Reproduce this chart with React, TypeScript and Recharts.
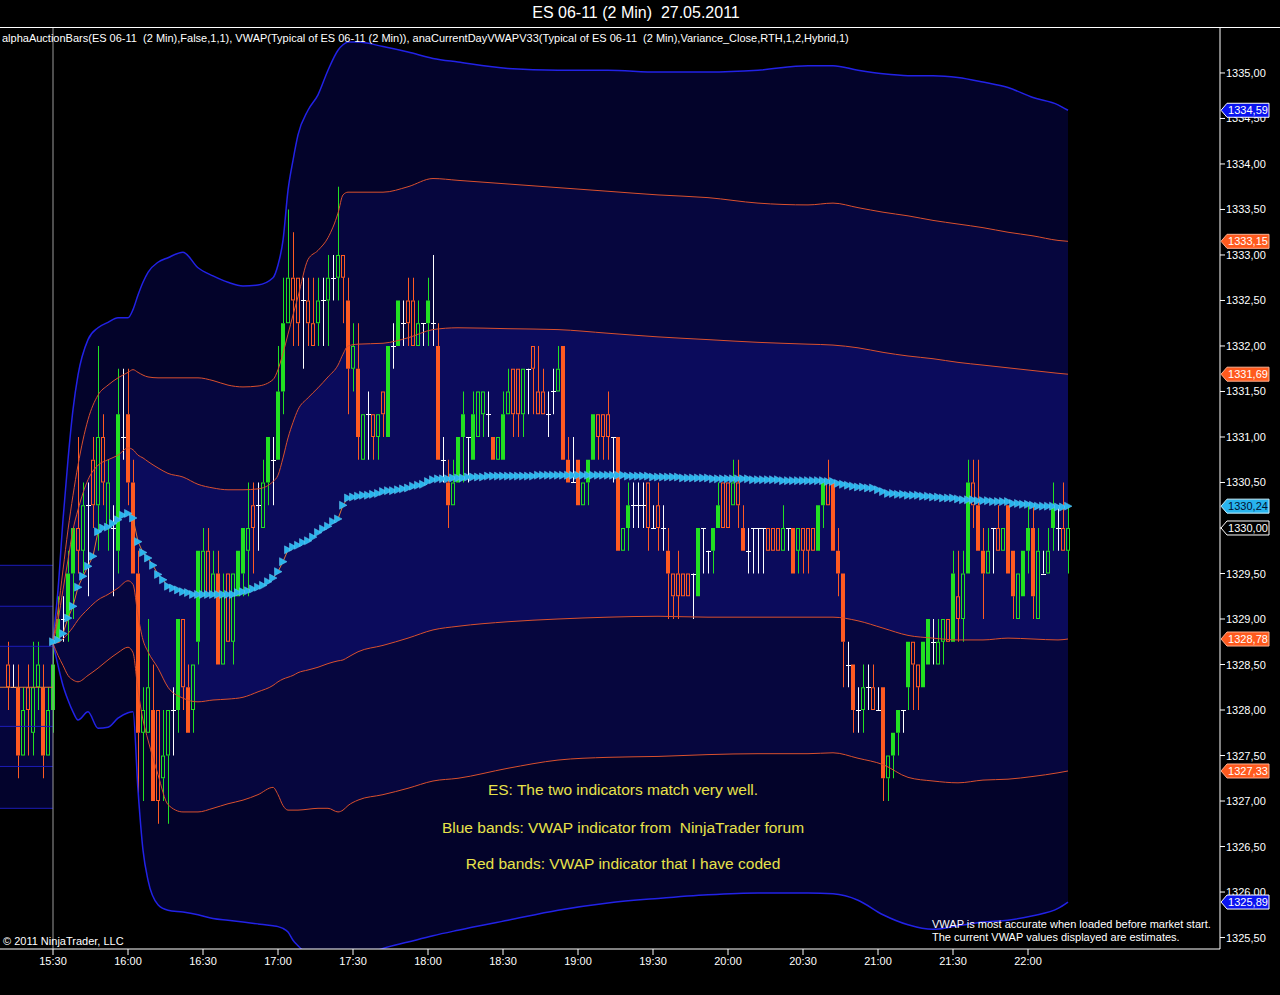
import React from 'react';
import { ComposedChart, XAxis, YAxis, Bar, Line, Area, ReferenceLine } from 'recharts';

const FONT = '"Liberation Sans", Arial, sans-serif';
const GREEN = '#22e022';
const RED = '#ff5a22';
const BAND_RED = '#d9502e';
const BAND_BLUE = '#2222e6';

// ---- 2-minute bars, index 0 = 15:12 ----
const open = [
  1328.50,1328.25,1328.25,1327.50,1328.25,1327.75,1328.25,1328.25,1327.50,1328.00,
  1328.75,1329.00,1329.00,1329.50,1330.00,1329.75,1330.25,1330.75,1330.25,1331.00,
  1330.00,1330.00,1329.75,1331.00,1331.25,1330.50,1329.50,1327.75,1327.75,1328.00,
  1328.00,1327.25,1327.50,1328.00,1328.00,1329.00,1328.25,1328.00,1328.75,1329.25,
  1329.75,1329.25,1329.50,1328.50,1329.50,1328.75,1329.25,1329.50,1329.75,1330.25,
  1330.25,1330.00,1330.50,1330.75,1330.75,1331.50,1332.25,1332.75,1332.75,1332.50,
  1332.50,1332.25,1332.25,1332.50,1332.50,1332.75,1332.75,1333.00,1332.50,1331.75,
  1331.75,1330.75,1331.25,1331.25,1331.00,1331.50,1331.00,1332.00,1332.00,1332.25,
  1332.50,1332.50,1332.00,1332.25,1332.25,1332.25,1332.00,1330.75,1330.50,1330.25,
  1330.50,1331.00,1331.00,1330.75,1331.00,1331.25,1331.25,1331.00,1330.75,1330.75,
  1331.25,1331.75,1331.75,1331.25,1331.75,1332.00,1331.50,1331.50,1331.25,1331.50,
  1331.50,1332.00,1330.75,1330.50,1330.75,1330.25,1330.50,1330.75,1331.25,1331.25,
  1331.25,1331.00,1331.00,1329.75,1330.00,1330.25,1330.25,1330.25,1330.50,1330.00,
  1330.25,1330.00,1329.75,1329.50,1329.50,1329.50,1329.50,1329.50,1329.25,1330.00,
  1329.75,1329.75,1330.00,1330.50,1330.50,1330.25,1330.50,1330.00,1329.75,1330.00,
  1330.00,1330.00,1330.00,1330.00,1330.00,1329.75,1330.00,1330.00,1329.75,1330.00,
  1330.00,1330.00,1329.75,1330.25,1330.50,1330.50,1329.75,1329.50,1328.50,1328.50,
  1328.00,1328.00,1328.25,1328.25,1328.00,1328.25,1327.25,1327.50,1327.75,1328.00,
  1328.25,1328.75,1328.50,1328.25,1328.50,1328.75,1328.50,1328.75,1329.00,1328.75,
  1329.25,1329.00,1329.50,1330.50,1330.25,1329.75,1329.50,1330.00,1330.00,1329.75,
  1330.25,1329.75,1329.00,1329.25,1329.75,1330.00,1329.00,1329.50,1329.50,1330.00,
  1330.00,1330.00,1329.75,
];
const high = [
  1328.75,1328.50,1328.50,1328.25,1328.50,1328.75,1328.75,1328.50,1328.25,1328.75,
  1329.25,1329.25,1329.75,1330.00,1331.00,1330.50,1330.50,1331.00,1332.00,1331.25,
  1330.75,1330.25,1331.75,1331.75,1331.75,1330.75,1329.75,1328.25,1329.00,1328.50,
  1328.00,1328.00,1328.00,1328.25,1329.00,1329.00,1328.50,1328.50,1329.75,1330.00,
  1330.00,1329.75,1329.75,1329.50,1329.50,1329.50,1329.75,1330.00,1330.50,1330.50,
  1330.50,1330.75,1331.00,1331.00,1332.00,1332.75,1333.50,1333.25,1332.75,1332.75,
  1332.75,1332.75,1332.75,1332.75,1333.00,1333.00,1333.75,1333.00,1332.75,1332.25,
  1332.25,1331.25,1331.50,1331.25,1331.25,1331.50,1332.00,1332.25,1332.50,1332.50,
  1332.75,1332.75,1332.50,1332.25,1332.75,1333.00,1332.25,1331.00,1330.75,1330.75,
  1331.00,1331.50,1331.00,1331.50,1331.50,1331.50,1331.50,1331.00,1331.00,1331.50,
  1331.75,1331.75,1331.75,1331.75,1331.75,1332.00,1332.00,1331.75,1331.50,1331.75,
  1332.00,1332.00,1331.00,1331.00,1330.75,1330.50,1330.75,1331.25,1331.25,1331.25,
  1331.50,1331.00,1331.00,1330.00,1330.50,1330.50,1330.50,1330.50,1330.50,1330.25,
  1330.50,1330.25,1330.00,1329.50,1329.75,1329.50,1329.50,1329.50,1330.00,1330.00,
  1329.75,1330.00,1330.50,1330.50,1330.50,1330.75,1330.75,1330.25,1330.00,1330.00,
  1330.00,1330.00,1330.00,1330.00,1330.00,1330.25,1330.00,1330.00,1330.00,1330.00,
  1330.00,1330.00,1330.25,1330.50,1330.75,1330.50,1330.00,1329.50,1328.75,1328.50,
  1328.25,1328.50,1328.50,1328.50,1328.25,1328.25,1327.50,1327.75,1328.00,1328.00,
  1328.75,1328.75,1328.50,1328.75,1329.00,1329.00,1329.00,1329.00,1329.00,1329.75,
  1329.75,1329.75,1330.75,1330.75,1330.75,1330.00,1330.00,1330.00,1330.25,1330.00,
  1330.25,1329.75,1329.50,1329.75,1330.25,1330.25,1330.00,1329.75,1330.00,1330.50,
  1330.25,1330.50,1330.25,
];
const low = [
  1328.00,1328.25,1327.25,1327.50,1327.50,1327.50,1328.00,1327.25,1327.50,1327.75,
  1328.75,1328.75,1328.75,1329.00,1329.50,1329.50,1329.25,1330.00,1329.75,1330.25,
  1329.75,1329.25,1329.50,1330.75,1330.25,1329.50,1327.00,1327.00,1327.75,1327.00,
  1326.75,1327.00,1326.75,1327.50,1327.75,1328.00,1327.75,1327.75,1328.50,1329.25,
  1329.25,1329.25,1328.50,1328.50,1328.75,1328.50,1329.25,1329.25,1329.25,1329.50,
  1329.75,1330.00,1330.25,1330.25,1330.75,1331.25,1332.25,1332.00,1332.00,1331.75,
  1332.00,1332.00,1332.00,1332.00,1332.00,1332.50,1332.50,1332.25,1331.25,1331.50,
  1330.75,1330.75,1330.75,1330.75,1330.75,1331.00,1331.00,1331.75,1332.00,1332.00,
  1332.00,1332.00,1332.00,1332.00,1332.00,1332.00,1330.75,1330.50,1330.00,1330.25,
  1330.50,1330.50,1330.50,1330.75,1331.00,1331.00,1331.00,1330.75,1330.75,1330.75,
  1331.25,1331.00,1331.00,1331.00,1331.25,1331.25,1331.25,1331.25,1331.00,1331.25,
  1331.50,1330.75,1330.50,1330.50,1330.25,1330.25,1330.25,1330.75,1330.75,1330.75,
  1330.75,1330.50,1329.75,1329.75,1329.75,1330.00,1330.00,1330.00,1329.75,1330.00,
  1329.75,1329.75,1329.00,1329.00,1329.00,1329.25,1329.25,1329.00,1329.25,1329.50,
  1329.50,1329.50,1330.00,1330.00,1330.00,1330.25,1330.00,1329.75,1329.50,1329.50,
  1329.50,1329.50,1329.75,1329.75,1329.75,1329.75,1329.75,1329.50,1329.50,1329.50,
  1329.50,1329.75,1329.75,1330.00,1330.25,1329.75,1329.25,1328.25,1328.25,1327.75,
  1327.75,1327.75,1328.00,1328.00,1328.00,1327.00,1327.00,1327.25,1327.50,1327.75,
  1328.00,1328.00,1328.00,1328.25,1328.50,1328.50,1328.50,1328.50,1328.75,1328.75,
  1328.75,1328.75,1329.50,1330.00,1329.75,1329.00,1329.50,1329.50,1329.75,1329.75,
  1329.50,1329.00,1329.00,1329.25,1329.50,1329.00,1329.00,1329.50,1329.50,1329.75,
  1329.75,1329.75,1329.50,
];
const close = [
  1328.25,1328.25,1327.50,1328.00,1328.00,1328.25,1328.50,1327.50,1328.00,1328.50,
  1329.00,1329.00,1329.50,1330.00,1329.75,1330.25,1330.25,1330.25,1331.00,1330.50,
  1330.50,1330.00,1331.25,1331.00,1330.50,1329.50,1327.75,1328.00,1328.25,1327.00,
  1327.00,1327.50,1328.00,1328.00,1329.00,1328.25,1327.75,1328.50,1329.75,1329.75,
  1329.25,1329.50,1328.50,1329.25,1328.75,1329.50,1329.75,1330.00,1330.00,1330.00,
  1330.25,1330.50,1331.00,1330.75,1331.50,1332.25,1332.75,1332.50,1332.25,1332.50,
  1332.25,1332.00,1332.50,1332.50,1332.75,1332.75,1333.00,1332.75,1331.75,1332.00,
  1331.00,1331.25,1331.25,1331.00,1331.25,1331.25,1332.00,1332.00,1332.50,1332.25,
  1332.25,1332.00,1332.25,1332.25,1332.50,1332.25,1330.75,1330.75,1330.25,1330.50,
  1331.00,1331.25,1331.00,1331.25,1331.50,1331.50,1331.25,1330.75,1331.00,1331.25,
  1331.50,1331.25,1331.25,1331.75,1331.75,1331.75,1331.25,1331.25,1331.25,1331.50,
  1331.75,1330.75,1330.50,1330.50,1330.25,1330.50,1330.75,1331.25,1331.00,1331.00,
  1331.00,1331.00,1329.75,1330.00,1330.25,1330.25,1330.25,1330.25,1330.00,1330.00,
  1330.00,1330.00,1329.50,1329.25,1329.25,1329.25,1329.25,1329.50,1330.00,1330.00,
  1329.75,1330.00,1330.25,1330.00,1330.00,1330.50,1330.25,1329.75,1329.75,1330.00,
  1330.00,1330.00,1329.75,1329.75,1329.75,1330.00,1330.00,1329.50,1330.00,1329.75,
  1329.75,1329.75,1330.25,1330.50,1330.25,1329.75,1329.50,1328.75,1328.50,1328.00,
  1328.00,1328.25,1328.25,1328.00,1328.00,1327.25,1327.50,1327.75,1328.00,1328.00,
  1328.75,1328.50,1328.25,1328.75,1329.00,1328.75,1328.75,1329.00,1328.75,1329.50,
  1329.00,1329.50,1330.50,1330.25,1329.75,1329.50,1329.75,1330.00,1329.75,1330.00,
  1329.50,1329.25,1329.50,1329.75,1330.00,1329.25,1329.75,1329.50,1329.75,1330.25,
  1330.00,1329.75,1330.00,
];

// ---- VWAP per bar, from the session open (bar index 9 = 15:30) ----
const vwapStart = 9;
const vwap = [
  1328.75,1328.77,1328.84,1329.01,1329.14,1329.35,1329.47,1329.58,1329.69,1329.96,
  1330.00,1330.01,1330.05,1330.09,1330.14,1330.16,1330.11,1329.85,1329.73,1329.67,
  1329.59,1329.49,1329.43,1329.36,1329.34,1329.32,1329.30,1329.29,1329.27,1329.27,
  1329.27,1329.27,1329.27,1329.27,1329.27,1329.27,1329.27,1329.29,1329.30,1329.31,
  1329.33,1329.35,1329.37,1329.41,1329.45,1329.52,1329.63,1329.76,1329.79,1329.81,
  1329.84,1329.86,1329.90,1329.95,1329.99,1330.02,1330.07,1330.10,1330.25,1330.33,
  1330.34,1330.35,1330.36,1330.36,1330.37,1330.38,1330.40,1330.41,1330.41,1330.42,
  1330.43,1330.44,1330.46,1330.47,1330.48,1330.51,1330.53,1330.54,1330.54,1330.54,
  1330.55,1330.55,1330.55,1330.56,1330.56,1330.56,1330.56,1330.57,1330.57,1330.57,
  1330.57,1330.57,1330.57,1330.57,1330.57,1330.57,1330.57,1330.58,1330.58,1330.58,
  1330.58,1330.58,1330.58,1330.58,1330.58,1330.58,1330.58,1330.58,1330.58,1330.58,
  1330.58,1330.58,1330.58,1330.58,1330.58,1330.57,1330.57,1330.57,1330.57,1330.57,
  1330.56,1330.56,1330.56,1330.56,1330.56,1330.56,1330.55,1330.55,1330.55,1330.55,
  1330.55,1330.55,1330.54,1330.54,1330.54,1330.54,1330.54,1330.54,1330.54,1330.54,
  1330.53,1330.53,1330.53,1330.53,1330.53,1330.53,1330.52,1330.52,1330.52,1330.52,
  1330.52,1330.52,1330.52,1330.52,1330.52,1330.51,1330.51,1330.49,1330.48,1330.47,
  1330.46,1330.45,1330.45,1330.44,1330.44,1330.42,1330.40,1330.38,1330.38,1330.37,
  1330.37,1330.36,1330.36,1330.36,1330.35,1330.35,1330.34,1330.34,1330.33,1330.33,
  1330.33,1330.32,1330.31,1330.31,1330.31,1330.30,1330.30,1330.30,1330.29,1330.29,
  1330.29,1330.29,1330.27,1330.27,1330.26,1330.26,1330.25,1330.24,1330.24,1330.24,
  1330.24,1330.23,1330.23,1330.24,
];

// ---- VWAP standard-deviation bands (sampled at these bar indices) ----
const bandIdx = [9,10,11,12,13,14,16,18,20,22,24,25,26,27,28,30,32,35,38,41,44,47,50,53,54,55,56,57,58,60,62,64,66,67,68,70,75,80,85,90,100,110,120,130,140,150,160,165,170,175,180,185,190,195,200,205,210,212];
const up3 = [1328.77,1329.32,1330.09,1330.75,1331.30,1331.68,1332.07,1332.20,1332.26,1332.31,1332.31,1332.40,1332.56,1332.70,1332.81,1332.92,1332.97,1333.03,1332.86,1332.77,1332.70,1332.66,1332.67,1332.75,1332.89,1333.16,1333.71,1334.04,1334.32,1334.59,1334.76,1335.03,1335.25,1335.31,1335.34,1335.34,1335.29,1335.23,1335.16,1335.12,1335.05,1335.03,1335.03,1335.01,1335.01,1335.03,1335.08,1335.08,1335.03,1334.99,1334.97,1334.97,1334.95,1334.90,1334.84,1334.73,1334.65,1334.59];
const up2 = [1328.76,1329.10,1329.54,1329.98,1330.36,1330.69,1331.19,1331.46,1331.57,1331.65,1331.71,1331.74,1331.71,1331.68,1331.66,1331.65,1331.65,1331.65,1331.65,1331.62,1331.57,1331.55,1331.56,1331.63,1331.74,1331.92,1332.13,1332.34,1332.54,1332.95,1333.05,1333.19,1333.46,1333.66,1333.69,1333.69,1333.69,1333.75,1333.84,1333.82,1333.78,1333.74,1333.70,1333.66,1333.63,1333.57,1333.55,1333.57,1333.52,1333.47,1333.43,1333.38,1333.34,1333.30,1333.25,1333.21,1333.16,1333.15];
const up1 = [1328.75,1328.99,1329.32,1329.65,1329.98,1330.20,1330.53,1330.69,1330.75,1330.80,1330.88,1330.86,1330.80,1330.77,1330.73,1330.66,1330.60,1330.56,1330.48,1330.44,1330.42,1330.42,1330.43,1330.51,1330.58,1330.77,1330.99,1331.16,1331.30,1331.43,1331.54,1331.66,1331.79,1331.91,1332.00,1332.02,1332.03,1332.09,1332.18,1332.20,1332.19,1332.18,1332.14,1332.10,1332.07,1332.04,1332.02,1332.01,1331.98,1331.93,1331.89,1331.86,1331.82,1331.79,1331.76,1331.73,1331.70,1331.69];
const lo1 = [1328.74,1328.74,1328.78,1328.84,1328.91,1328.99,1329.11,1329.21,1329.27,1329.34,1329.42,1329.38,1329.04,1328.77,1328.64,1328.46,1328.25,1328.13,1328.09,1328.11,1328.12,1328.14,1328.20,1328.27,1328.31,1328.34,1328.36,1328.38,1328.41,1328.44,1328.47,1328.51,1328.54,1328.55,1328.58,1328.64,1328.71,1328.79,1328.88,1328.92,1328.97,1329.00,1329.02,1329.03,1329.02,1329.02,1329.02,1329.02,1328.98,1328.90,1328.82,1328.79,1328.77,1328.77,1328.79,1328.78,1328.77,1328.78];
const lo2 = [1328.73,1328.60,1328.49,1328.38,1328.33,1328.31,1328.38,1328.46,1328.55,1328.63,1328.69,1328.63,1328.22,1327.89,1327.67,1327.29,1326.96,1326.88,1326.88,1326.92,1326.97,1327.01,1327.07,1327.15,1327.07,1326.95,1326.90,1326.90,1326.90,1326.91,1326.92,1326.92,1326.88,1326.90,1326.95,1327.01,1327.07,1327.14,1327.22,1327.25,1327.36,1327.45,1327.48,1327.49,1327.51,1327.52,1327.52,1327.53,1327.47,1327.40,1327.26,1327.22,1327.20,1327.23,1327.24,1327.27,1327.31,1327.33];
const lo3 = [1328.73,1328.49,1328.27,1328.11,1327.98,1327.89,1327.98,1327.80,1327.81,1327.91,1327.97,1327.98,1327.12,1326.46,1326.13,1325.86,1325.80,1325.78,1325.75,1325.71,1325.69,1325.67,1325.65,1325.63,1325.62,1325.60,1325.56,1325.47,1325.41,1325.31,1325.23,1325.19,1325.18,1325.19,1325.21,1325.27,1325.38,1325.45,1325.52,1325.58,1325.69,1325.80,1325.88,1325.93,1325.97,1325.99,1325.99,1325.98,1325.91,1325.75,1325.64,1325.59,1325.63,1325.67,1325.69,1325.74,1325.82,1325.89];

// ---- pre-market (prior values carried flat up to the open) ----
const preIdx = [-2, 9];
const preVwap = [1328.25, 1328.25];
const preUp3 = [1329.59, 1329.59];
const preUp2 = [1329.14, 1329.14];
const preUp1 = [1328.70, 1328.70];
const preLo1 = [1327.82, 1327.82];
const preLo2 = [1327.38, 1327.38];
const preLo3 = [1326.92, 1326.92];

// ---- axes ----
const xTickIdx = [9, 24, 39, 54, 69, 84, 99, 114, 129, 144, 159, 174, 189, 204];
const xTickLabels = ['15:30','16:00','16:30','17:00','17:30','18:00','18:30','19:00','19:30','20:00','20:30','21:00','21:30','22:00'];
const yTicks = [1325.5,1326,1326.5,1327,1327.5,1328,1328.5,1329,1329.5,1330,1330.5,1331,1331.5,1332,1332.5,1333,1333.5,1334,1334.5,1335];

const bars = open.map((o, i) => ({
  i, o, h: high[i], l: low[i], c: close[i],
  ph: i > 0 ? high[i - 1] : high[i], pl: i > 0 ? low[i - 1] : low[i],
  range: [low[i], high[i]],
}));
const vwapRows = vwap.map((v, k) => ({ i: vwapStart + k, v }));
const bandRows = bandIdx.map((x, k) => ({
  i: x, up3: up3[k], up2: up2[k], up1: up1[k], lo1: lo1[k], lo2: lo2[k], lo3: lo3[k],
  r3: [lo3[k], up3[k]], r2: [lo2[k], up2[k]], r1: [lo1[k], up1[k]],
}));
const preRows = preIdx.map((x, k) => ({
  i: x, v: preVwap[k], up3: preUp3[k], up2: preUp2[k], up1: preUp1[k], lo1: preLo1[k], lo2: preLo2[k], lo3: preLo3[k],
  r3: [preLo3[k], preUp3[k]], r2: [preLo2[k], preUp2[k]], r1: [preLo1[k], preUp1[k]],
}));

const fmt = (v: number) => v.toFixed(2).replace('.', ',');
const last = (a: number[]) => a[a.length - 1];

// last-value markers shown on the price axis
const flags = [
  { v: last(up3), bg: '#0a14f0', fg: '#ffffff', border: '#ffffff' },
  { v: last(up2), bg: '#ff5a1e', fg: '#ffffff', border: '#ffb090' },
  { v: last(up1), bg: '#ff5a1e', fg: '#ffffff', border: '#ffb090' },
  { v: last(vwap), bg: '#28b4ee', fg: '#001030', border: '#c8f0ff' },
  { v: last(close), bg: '#000000', fg: '#ffffff', border: '#ffffff' },
  { v: last(lo1), bg: '#ff5a1e', fg: '#ffffff', border: '#ffb090' },
  { v: last(lo2), bg: '#ff5a1e', fg: '#ffffff', border: '#ffb090' },
  { v: last(lo3), bg: '#0a14f0', fg: '#ffffff', border: '#ffffff' },
];
const axisTicks = [...yTicks, ...flags.map((f) => f.v)];

const TICK_SIZE = 5;
const TICK_MARGIN = 1;

function PriceTick(props: any) {
  const { x, y, index, payload } = props;
  const axisX = x - TICK_SIZE - TICK_MARGIN;
  if (index >= yTicks.length) {
    const f = flags[index - yTicks.length];
    const x0 = axisX + 1;
    return (
      <g>
        <path
          d={`M${x0},${y} L${x0 + 6},${y - 7} L${x0 + 48},${y - 7} L${x0 + 48},${y + 7} L${x0 + 6},${y + 7} Z`}
          fill={f.bg}
          stroke={f.border}
          strokeWidth={1}
        />
        <text x={x0 + 27} y={y + 4} fill={f.fg} textAnchor="middle" fontSize={11} fontFamily={FONT}>
          {fmt(f.v)}
        </text>
      </g>
    );
  }
  return (
    <g>
      <line x1={axisX} x2={axisX + TICK_SIZE} y1={y} y2={y} stroke="#ffffff" />
      <text x={x} y={y + 4} fill="#ffffff" fontSize={11} fontFamily={FONT} textAnchor="start">
        {fmt(payload.value)}
      </text>
    </g>
  );
}

function Candle(props: any) {
  const { x, y, width, height, payload } = props;
  if (!payload || x == null) return null;
  const { o, h, l, c, ph, pl } = payload;
  const cx = Math.round(x + width / 2);
  const top = Math.min(y, y + height);
  const hgt = Math.abs(height);
  const k = h > l ? hgt / (h - l) : 0;
  const py = (p: number) => top + (h - p) * k;
  const wx = cx + 0.5;
  if (o === c) {
    const yy = Math.round(py(o)) + 0.5;
    return (
      <g>
        <line x1={wx} x2={wx} y1={top} y2={top + hgt} stroke="#ffffff" />
        <line x1={cx - 2} x2={cx + 3} y1={yy} y2={yy} stroke="#ffffff" />
      </g>
    );
  }
  const up = c > o;
  const col = up ? GREEN : RED;
  const bTop = py(Math.max(o, c));
  const bBot = py(Math.min(o, c));
  const filled = up ? c > ph : c < pl;
  return (
    <g>
      <line x1={wx} x2={wx} y1={top} y2={bTop} stroke={col} />
      <line x1={wx} x2={wx} y1={bBot} y2={top + hgt} stroke={col} />
      {filled ? (
        <rect x={cx - 2} y={bTop} width={4} height={Math.max(1, bBot - bTop)} fill={col} />
      ) : (
        <rect x={cx - 1.5} y={bTop + 0.5} width={3} height={Math.max(1, bBot - bTop - 1)} fill="none" stroke={col} />
      )}
    </g>
  );
}

const VwapDot = (p: any) => {
  const { cx, cy, index } = p;
  if (cx == null || cy == null) return <g key={`d${index}`} />;
  return (
    <path
      key={`d${index}`}
      d={`M${cx - 3.5},${cy - 4} L${cx + 4},${cy} L${cx - 3.5},${cy + 4} Z`}
      fill="#2ab4ec"
      stroke="#62ccf6"
      strokeWidth={0.5}
    />
  );
};

const txt = (extra: React.CSSProperties): React.CSSProperties => ({
  position: 'absolute',
  fontFamily: FONT,
  color: '#ffffff',
  whiteSpace: 'pre',
  lineHeight: 1,
  ...extra,
});

export default function App() {
  return (
    <div style={{ position: 'relative', width: 1280, height: 995, background: '#000', overflow: 'hidden' }}>
      <style>{`html,body{margin:0;padding:0;background:#000;}`}</style>
      <ComposedChart width={1280} height={995} data={bars} margin={{ top: 27, right: 0, bottom: 0, left: 0 }}>
        <XAxis
          dataKey="i"
          type="number"
          domain={[-1.6, 242.4]}
          allowDataOverflow
          ticks={xTickIdx}
          interval={0}
          tickFormatter={(v: number) => xTickLabels[xTickIdx.indexOf(v)] ?? ''}
          height={46}
          tickSize={6}
          tickMargin={2}
          axisLine={{ stroke: '#ffffff' }}
          tickLine={{ stroke: '#ffffff' }}
          tick={{ fill: '#ffffff', fontSize: 11, fontFamily: FONT }}
        />
        <YAxis
          orientation="right"
          type="number"
          domain={[1325.374, 1335.505]}
          allowDataOverflow
          ticks={axisTicks}
          interval={0}
          width={60}
          tickSize={TICK_SIZE}
          tickMargin={TICK_MARGIN}
          axisLine={{ stroke: '#ffffff' }}
          tickLine={false}
          tick={<PriceTick />}
        />

        {/* band fills */}
        <Area data={bandRows} dataKey="r3" type="monotone" fill="#03032a" fillOpacity={1} stroke="none" isAnimationActive={false} />
        <Area data={bandRows} dataKey="r2" type="monotone" fill="#06063e" fillOpacity={1} stroke="none" isAnimationActive={false} />
        <Area data={bandRows} dataKey="r1" type="monotone" fill="#0b0b5c" fillOpacity={1} stroke="none" isAnimationActive={false} />
        <Area data={preRows} dataKey="r3" type="linear" fill="#03032c" fillOpacity={1} stroke="none" isAnimationActive={false} />
        <Area data={preRows} dataKey="r2" type="linear" fill="#05053a" fillOpacity={1} stroke="none" isAnimationActive={false} />
        <Area data={preRows} dataKey="r1" type="linear" fill="#07074a" fillOpacity={1} stroke="none" isAnimationActive={false} />

        {/* pre-market band lines */}
        {['up3', 'up2', 'up1', 'lo1', 'lo2', 'lo3'].map((k) => (
          <Line key={`p${k}`} data={preRows} dataKey={k} type="linear" stroke="#1c1cb8" strokeWidth={1} dot={false} isAnimationActive={false} />
        ))}
        <Line data={preRows} dataKey="v" type="linear" stroke="#e07a34" strokeWidth={1} dot={false} isAnimationActive={false} />

        {/* session bands */}
        <Line data={bandRows} dataKey="up3" type="monotone" stroke={BAND_BLUE} strokeWidth={1.5} dot={false} isAnimationActive={false} />
        <Line data={bandRows} dataKey="lo3" type="monotone" stroke={BAND_BLUE} strokeWidth={1.5} dot={false} isAnimationActive={false} />
        <Line data={bandRows} dataKey="up2" type="monotone" stroke={BAND_RED} strokeWidth={1} dot={false} isAnimationActive={false} />
        <Line data={bandRows} dataKey="up1" type="monotone" stroke={BAND_RED} strokeWidth={1} dot={false} isAnimationActive={false} />
        <Line data={bandRows} dataKey="lo1" type="monotone" stroke={BAND_RED} strokeWidth={1} dot={false} isAnimationActive={false} />
        <Line data={bandRows} dataKey="lo2" type="monotone" stroke={BAND_RED} strokeWidth={1} dot={false} isAnimationActive={false} />

        <ReferenceLine x={vwapStart} stroke="#9a9a9a" strokeWidth={1} />

        <Bar dataKey="range" barSize={5} shape={Candle} isAnimationActive={false} />

        <Line data={vwapRows} dataKey="v" type="linear" stroke="#e07a34" strokeWidth={1} dot={VwapDot} isAnimationActive={false} />
      </ComposedChart>

      <div style={{ position: 'absolute', left: 0, top: 27, width: 1280, height: 1, background: '#ffffff' }} />
      <div style={txt({ left: 0, width: 1272, top: 5, fontSize: 16, textAlign: 'center' })}>ES 06-11 (2 Min)  27.05.2011</div>
      <div style={txt({ left: 2, top: 33, fontSize: 11 })}>
        alphaAuctionBars(ES 06-11  (2 Min),False,1,1), VWAP(Typical of ES 06-11 (2 Min)), anaCurrentDayVWAPV33(Typical of ES 06-11  (2 Min),Variance_Close,RTH,1,2,Hybrid,1)
      </div>
      <div style={txt({ left: 3, top: 936, fontSize: 11 })}>© 2011 NinjaTrader, LLC</div>
      <div style={txt({ left: 932, top: 919, fontSize: 11 })}>VWAP is most accurate when loaded before market start.</div>
      <div style={txt({ left: 932, top: 932, fontSize: 11 })}>The current VWAP values displayed are estimates.</div>
      <div style={txt({ left: 623, top: 782, fontSize: 15.5, color: '#e8e24a', transform: 'translateX(-50%)' })}>ES: The two indicators match very well.</div>
      <div style={txt({ left: 623, top: 820, fontSize: 15.5, color: '#e8e24a', transform: 'translateX(-50%)' })}>Blue bands: VWAP indicator from  NinjaTrader forum</div>
      <div style={txt({ left: 623, top: 856, fontSize: 15.5, color: '#e8e24a', transform: 'translateX(-50%)' })}>Red bands: VWAP indicator that I have coded</div>
    </div>
  );
}
